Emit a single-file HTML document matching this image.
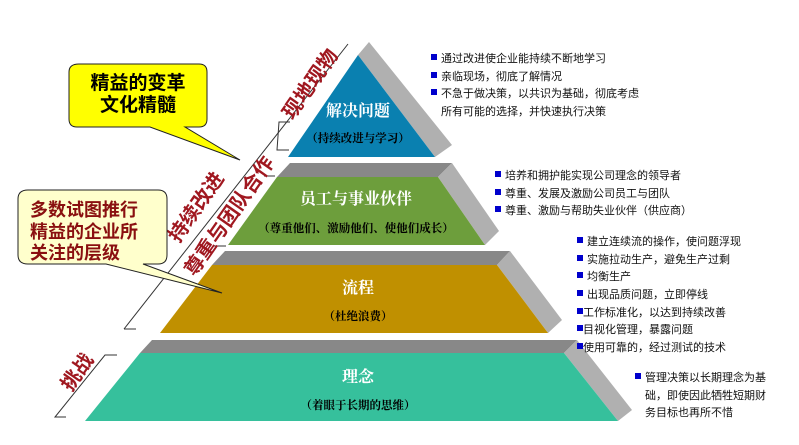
<!DOCTYPE html>
<html><head><meta charset="utf-8"><style>
body{margin:0;background:#fff;}
svg{display:block;font-family:"Liberation Sans","Noto Sans CJK SC",sans-serif;}
.t{fill:#fff;font-family:"Liberation Serif","Noto Serif CJK SC",serif;font-weight:bold;text-anchor:middle;}
.s{fill:#000;font-size:11.5px;font-weight:bold;font-family:"Liberation Serif","Noto Serif CJK SC",serif;text-anchor:middle;}
.r{fill:#a01820;font-weight:bold;font-size:20px;text-anchor:middle;}
.b{font-size:11px;fill:#111;}
</style></head><body>
<svg width="799" height="445" viewBox="0 0 799 445">
<!-- top tier -->
<polygon points="369,42 452,145 435,157 358,55" fill="#b0b0b0"/>
<polygon points="358,55 435,157 288,157" fill="#0a80b0"/>
<text class="t" x="358" y="116" font-size="16">解决问题</text>
<text class="s" x="358" y="142">（持续改进与学习）</text>
<!-- green -->
<polygon points="290,163 452,163 438,177 277,177" fill="#888"/>
<polygon points="452,163 499,231 485,245 438,177" fill="#b0b0b0"/>
<polygon points="277,177 438,177 485,245 228,245" fill="#6d9e3c"/>
<text class="t" x="356" y="204" font-size="16">员工与事业伙伴</text>
<text class="s" x="356" y="232">（尊重他们、激励他们、使他们成长）</text>
<!-- orange -->
<polygon points="225,251 510,251 497,265 212,265" fill="#888"/>
<polygon points="510,251 562,320 548,333 497,265" fill="#b0b0b0"/>
<polygon points="212,265 497,265 548,333 160,333" fill="#c09000"/>
<text class="t" x="358" y="293" font-size="16">流程</text>
<text class="s" x="358" y="320">（杜绝浪费）</text>
<!-- teal -->
<polygon points="152,340 577,340 564,353 140,353" fill="#888"/>
<polygon points="577,340 632,410 618,421 564,353" fill="#b0b0b0"/>
<polygon points="140,353 564,353 618,421 85,421" fill="#36c09c"/>
<text class="t" x="358" y="382" font-size="16">理念</text>
<text class="s" x="358" y="409">（着眼于长期的思维）</text>
<!-- lines -->
<g stroke="#333" stroke-width="1" fill="none">
<line x1="348" y1="44" x2="124" y2="329"/>
<line x1="124" y1="329" x2="136" y2="329"/>
<polyline points="290,122 279,122 277,150 289,150"/>
<line x1="264" y1="176" x2="275" y2="176"/>
<line x1="214" y1="246" x2="226" y2="246"/>
<polyline points="117,355 105,355 55,417 66,417"/>
</g>
<!-- rotated labels -->
<text class="r" transform="translate(310,84) rotate(-55)" x="0" y="7">现地现物</text>
<text class="r" transform="translate(196,207) rotate(-55)" x="0" y="7">持续改进</text>
<text class="r" transform="translate(229,216) rotate(-55)" x="0" y="7">尊重与团队合作</text>
<text class="r" transform="translate(77,372) rotate(-55)" x="0" y="7">挑战</text>
<!-- callouts -->
<path d="M79,64 H199 Q207,64 207,72 V119 Q207,127 199,127 H185 L240,160 L150,127 H77 Q69,127 69,119 V72 Q69,64 79,64 Z" fill="#ffff00" stroke="#222" stroke-width="1"/>
<text x="138" y="89" font-size="19" font-weight="bold" text-anchor="middle">精益的变革</text>
<text x="138" y="111" font-size="19" font-weight="bold" text-anchor="middle">文化精髓</text>
<path d="M28,190 H158 Q167,190 167,199 V255 Q167,264 158,264 H143 L222,293 L106,264 H28 Q18,264 18,255 V199 Q18,190 28,190 Z" fill="#ffffcc" stroke="#222" stroke-width="1"/>
<g font-size="18" font-weight="bold" fill="#8a1010">
<text x="30" y="216">多数试图推行</text>
<text x="30" y="238">精益的企业所</text>
<text x="30" y="259">关注的层级</text>
</g>
<!-- bullets -->
<g fill="#0000cc">
<rect x="431" y="54" width="6" height="6"/><rect x="431" y="72" width="6" height="6"/><rect x="431" y="89" width="6" height="6"/>
<rect x="495" y="171" width="6" height="6"/><rect x="495" y="189" width="6" height="6"/><rect x="495" y="206" width="6" height="6"/>
<rect x="577" y="237" width="6" height="6"/><rect x="577" y="255" width="6" height="6"/><rect x="577" y="272" width="6" height="6"/><rect x="577" y="290" width="6" height="6"/><rect x="577" y="308" width="6" height="6"/><rect x="577" y="325" width="6" height="6"/><rect x="577" y="343" width="6" height="6"/>
<rect x="635" y="373" width="6" height="6"/>
</g>
<g class="b">
<text x="441" y="62">通过改进使企业能持续不断地学习</text>
<text x="441" y="80">亲临现场，彻底了解情况</text>
<text x="441" y="97">不急于做决策，以共识为基础，彻底考虑</text>
<text x="441" y="115">所有可能的选择，并快速执行决策</text>
<text x="505" y="179">培养和拥护能实现公司理念的领导者</text>
<text x="505" y="197">尊重、发展及激励公司员工与团队</text>
<text x="505" y="214">尊重、激励与帮助失业伙伴（供应商）</text>
<text x="587" y="245">建立连续流的操作，使问题浮现</text>
<text x="587" y="263">实施拉动生产，避免生产过剩</text>
<text x="587" y="280">均衡生产</text>
<text x="587" y="298">出现品质问题，立即停线</text>
<text x="583" y="316">工作标准化，以达到持续改善</text>
<text x="583" y="333">目视化管理，暴露问题</text>
<text x="583" y="351">使用可靠的，经过测试的技术</text>
<text x="645" y="381">管理决策以长期理念为基</text>
<text x="645" y="399">础，即使因此牺牲短期财</text>
<text x="645" y="416">务目标也再所不惜</text>
</g>
</svg>
</body></html>
